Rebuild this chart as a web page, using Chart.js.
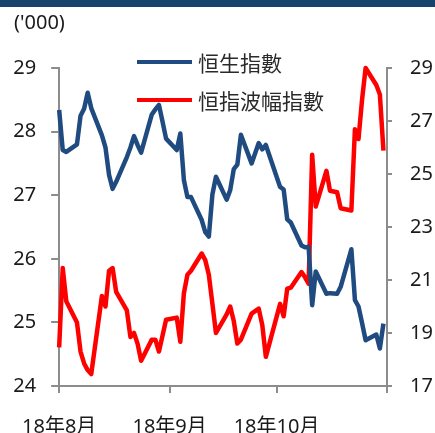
<!DOCTYPE html>
<html><head><meta charset="utf-8">
<script src="https://cdn.jsdelivr.net/npm/chart.js@4.4.1/dist/chart.umd.min.js"></script>
<style>
html,body{margin:0;padding:0;background:#fff;}
#wrap{position:relative;width:435px;height:433px;overflow:hidden;}
#band{position:absolute;left:0;top:0;width:435px;height:7px;background:#17426b;}
#unit{position:absolute;left:14px;top:8px;font:20px 'Noto Sans','Noto Sans CJK TC',sans-serif;color:#1a1a1a;}
canvas{position:absolute;left:0;top:0;}
</style></head><body>
<div id="wrap"><canvas id="c" width="435" height="433"></canvas><div id="band"></div><div id="unit">('000)</div></div>
<script>
const tradeDates = [
 '2018-08-01','2018-08-02','2018-08-03','2018-08-06','2018-08-07','2018-08-08','2018-08-09','2018-08-10',
 '2018-08-13','2018-08-14','2018-08-15','2018-08-16','2018-08-17','2018-08-20','2018-08-21','2018-08-22',
 '2018-08-23','2018-08-24','2018-08-27','2018-08-28','2018-08-29','2018-08-30','2018-08-31',
 '2018-09-03','2018-09-04','2018-09-05','2018-09-06','2018-09-07','2018-09-10','2018-09-11','2018-09-12',
 '2018-09-13','2018-09-14','2018-09-17','2018-09-18','2018-09-19','2018-09-20','2018-09-21','2018-09-24',
 '2018-09-26','2018-09-27','2018-09-28',
 '2018-10-02','2018-10-03','2018-10-04','2018-10-05','2018-10-08','2018-10-09','2018-10-10','2018-10-11',
 '2018-10-12','2018-10-15','2018-10-16','2018-10-18','2018-10-19','2018-10-22','2018-10-23','2018-10-24',
 '2018-10-25','2018-10-26','2018-10-29','2018-10-30','2018-10-31'];
const hsi = [
 28.34,27.71,27.68,27.80,28.25,28.36,28.61,28.37,
 27.94,27.75,27.32,27.10,27.21,27.60,27.75,27.93,
 27.79,27.67,28.27,28.35,28.42,28.16,27.89,
 27.71,27.97,27.24,26.97,26.97,26.61,26.42,26.35,
 27.01,27.29,26.93,27.08,27.41,27.48,27.95,27.50,
 27.82,27.72,27.79,
 27.13,27.09,26.62,26.57,26.21,26.18,26.19,25.27,
 25.80,25.45,25.46,25.45,25.56,26.15,25.35,25.25,
 24.99,24.72,24.81,24.59,24.98];
const vhsi = [
 18.46,21.45,20.2,19.4,18.3,17.85,17.6,17.45,
 20.4,20.0,21.35,21.45,20.55,19.85,18.85,19.0,
 18.6,17.95,18.75,18.75,18.3,18.9,19.5,
 19.58,18.67,20.5,21.2,21.35,22.0,21.75,21.2,
 20.1,19.0,19.7,20.0,19.45,18.6,18.75,19.73,
 19.92,19.3,18.1,
 20.1,19.63,20.67,20.71,21.3,21.1,20.86,25.73,
 23.77,25.12,24.37,24.31,23.71,23.62,26.69,26.32,
 27.8,29.0,28.36,28.0,25.88];
const seriesNames = ['恒生指數','恒指波幅指數'];
const seriesColors = ['#1f4b80','#ff0000'];
const monthTickDays = [0,31,61,92];
const monthLabels = ['18年8月','18年9月','18年10月',''];
const leftRange = [24,29,1];
const rightRange = [17,29,2];

const startMs = Date.UTC(2018,7,1);
const dayOf = d => Math.round((Date.parse(d+'T00:00:00Z') - startMs)/86400000);
const toPts = arr => tradeDates.map((d,i)=>({x:dayOf(d), y:arr[i]}));

const FONT = "'Noto Sans','Noto Sans CJK TC',sans-serif";
Chart.defaults.font.family = FONT;
Chart.defaults.font.size = 20;
Chart.defaults.color = '#1a1a1a';
const AX = '#8c8c8c';

const legendPlugin = {
  id:'customLegend',
  afterDatasetsDraw(chart){
    const ctx = chart.ctx; const rows = [62,100];
    chart.data.datasets.forEach((ds,i)=>{
      ctx.save();
      ctx.strokeStyle = ds.borderColor; ctx.lineWidth = 4; ctx.lineCap='butt';
      ctx.beginPath(); ctx.moveTo(137,rows[i]); ctx.lineTo(192,rows[i]); ctx.stroke();
      ctx.fillStyle = '#2a2a2a'; ctx.font = "21px 'Noto Sans CJK TC',"+FONT;
      ctx.textBaseline = 'middle'; ctx.textAlign='left';
      ctx.fillText(ds.label, 198, rows[i]+1);
      ctx.restore();
    });
  }
};

new Chart(document.getElementById('c'), {
  type:'line',
  data:{datasets:[
    {label:seriesNames[0], data:toPts(hsi), yAxisID:'yL', borderColor:seriesColors[0], borderWidth:4.5, pointRadius:0, tension:0, borderJoinStyle:'round', clip:8},
    {label:seriesNames[1], data:toPts(vhsi), yAxisID:'yR', borderColor:seriesColors[1], borderWidth:4.5, pointRadius:0, tension:0, borderJoinStyle:'round', clip:8}
  ]},
  options:{
    responsive:false, devicePixelRatio:1, animation:false,
    layout:{padding:{top:68,left:0,right:0,bottom:0}},
    plugins:{legend:{display:false}, tooltip:{enabled:false}},
    scales:{
      x:{type:'linear', position:'bottom', min:monthTickDays[0], max:monthTickDays[monthTickDays.length-1],
        afterFit:s=>{s.height=47;},
        afterBuildTicks:s=>{s.ticks = monthTickDays.map(v=>({value:v}));},
        ticks:{autoSkip:false, maxRotation:0, padding:22, callback:(v,i)=>monthLabels[i]},
        grid:{display:true, drawOnChartArea:false, drawTicks:true, tickLength:7, color:AX, lineWidth:2},
        border:{display:true, color:AX, width:2}},
      yL:{position:'left', min:leftRange[0], max:leftRange[1],
        afterFit:s=>{s.width=58;},
        ticks:{stepSize:leftRange[2], padding:15},
        grid:{display:true, drawOnChartArea:false, drawTicks:true, tickLength:8, color:AX, lineWidth:2},
        border:{display:true, color:AX, width:2}},
      yR:{position:'right', min:rightRange[0], max:rightRange[1],
        afterFit:s=>{s.width=48;},
        ticks:{stepSize:rightRange[2], padding:18},
        grid:{display:true, drawOnChartArea:false, drawTicks:true, tickLength:5, color:AX, lineWidth:2},
        border:{display:true, color:AX, width:2}}
    }
  },
  plugins:[legendPlugin]
});
</script></body></html>
